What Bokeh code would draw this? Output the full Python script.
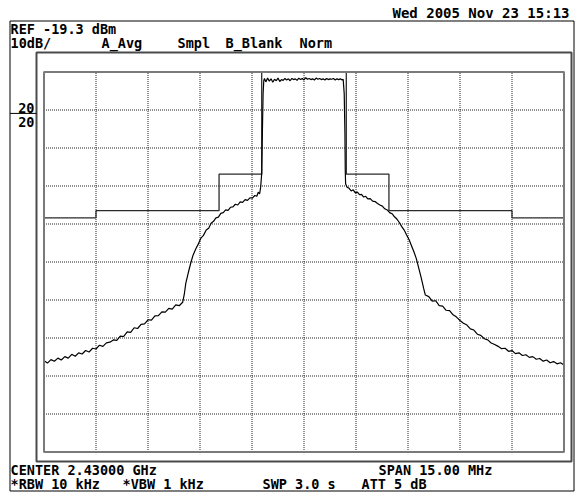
from bokeh.plotting import figure
from bokeh.models import Range1d
from bokeh.core.properties import value
from bokeh.embed import file_html
from bokeh.resources import INLINE

# ---------------- instrument settings / labels ----------------
CENTER_GHZ = 2.43
SPAN_MHZ = 15.0
REF_DBM = -19.3
DB_PER_DIV = 10.0
N_DIV = 10
DISPLAY_LINE_DBM = -30.2

date_text = "Wed 2005 Nov 23 15:13"
ref_text = "REF -19.3 dBm"
row2_texts = ["10dB/", "A_Avg", "Smpl", "B_Blank", "Norm"]
row3_texts = ["CENTER 2.43000 GHz", "SPAN 15.00 MHz"]
row4_texts = ["*RBW 10 kHz", "*VBW 1 kHz", "SWP 3.0 s", "ATT 5 dB"]
dl_texts = ["20", "20"]

# ---------------- data (offset from center, MHz / dBm) ----------------
# limit mask (step, value holds until next edge)
mask_freq = [-7.5, -6.0, -2.45, -1.22, 1.22, 2.45, 6.0, 7.5]
mask_level = [-57.7, -55.8, -46.2, -19.3, -46.2, -55.8, -57.7, -57.7]

# measured trace
trace_freq = [
    -7.5, -7.4, -7.3, -7.2, -7.1, -7.0, -6.9, -6.8, -6.7, -6.6,
    -6.5, -6.4, -6.3, -6.2, -6.1, -6.0, -5.9, -5.8, -5.7, -5.6,
    -5.5, -5.4, -5.3, -5.2, -5.1, -5.0, -4.9, -4.8, -4.7, -4.6,
    -4.5, -4.4, -4.3, -4.2, -4.1, -4.0, -3.9, -3.8, -3.7, -3.6,
    -3.5, -3.45, -3.41, -3.34, -3.27, -3.20, -3.12, -3.05, -2.98, -2.90,
    -2.82, -2.75, -2.68, -2.61, -2.54, -2.47, -2.40, -2.33, -2.26, -2.19,
    -2.12, -2.05, -1.98, -1.91, -1.84, -1.77, -1.70, -1.63, -1.56, -1.49,
    -1.42, -1.36, -1.32, -1.28, -1.25, -1.22, -1.20, -1.18, -1.16,
    -1.14, -1.10, -1.05, -1.00, -0.95, -0.90, -0.85, -0.80, -0.75, -0.70,
    -0.65, -0.60, -0.55, -0.50, -0.45, -0.40, -0.35, -0.30, -0.25, -0.20,
    -0.15, -0.10, -0.05, 0.00, 0.05, 0.10, 0.15, 0.20, 0.25, 0.30,
    0.35, 0.40, 0.45, 0.50, 0.55, 0.60, 0.65, 0.70, 0.75, 0.80,
    0.85, 0.90, 0.95, 1.00, 1.05, 1.10, 1.13,
    1.16, 1.18, 1.19, 1.20,
    1.24, 1.30, 1.36, 1.42, 1.48, 1.54, 1.60, 1.66, 1.72, 1.78,
    1.84, 1.91, 1.98, 2.05, 2.12, 2.19, 2.26, 2.33, 2.40, 2.47,
    2.54, 2.61, 2.68, 2.75, 2.82, 2.89, 2.96, 3.03, 3.10, 3.17,
    3.24, 3.31, 3.38, 3.45, 3.50,
    3.6, 3.7, 3.8, 3.9, 4.0, 4.1, 4.2, 4.3, 4.4, 4.5,
    4.6, 4.7, 4.8, 4.9, 5.0, 5.1, 5.2, 5.3, 5.4, 5.5,
    5.6, 5.7, 5.8, 5.9, 6.0, 6.1, 6.2, 6.3, 6.4, 6.5,
    6.6, 6.7, 6.8, 6.9, 7.0, 7.1, 7.2, 7.3, 7.4, 7.5,
]
trace_level = [
    -95.3, -95.9, -95.0, -95.4, -94.6, -95.1, -94.2, -94.6, -93.6, -94.1,
    -93.2, -93.5, -92.6, -93.0, -92.0, -92.2, -91.2, -91.5, -90.6, -90.4,
    -89.8, -89.9, -88.8, -88.9, -87.7, -87.8, -86.6, -86.8, -85.7, -85.6,
    -84.5, -84.6, -83.5, -83.4, -82.4, -82.5, -81.5, -81.7, -80.6, -80.8,
    -79.9, -77.6, -74.9, -72.2, -69.7, -67.5, -65.8, -64.6, -63.1, -62.3,
    -60.9, -60.4, -59.1, -58.6, -57.7, -57.5, -56.5, -56.3, -55.6, -55.7,
    -54.9, -54.8, -54.1, -54.3, -53.5, -53.6, -52.9, -53.1, -52.4, -52.5,
    -51.8, -52.0, -50.9, -51.4, -49.6, -46.0, -35.0, -25.0, -21.6,
    -21.0, -21.9, -20.9, -21.7, -21.1, -22.0, -21.2, -21.6, -20.9, -21.8,
    -21.3, -21.5, -21.0, -21.4, -21.1, -21.6, -21.0, -21.3, -21.1, -21.5,
    -20.9, -21.3, -21.0, -21.4, -20.8, -21.2, -21.0, -21.3, -21.1, -21.4,
    -20.9, -21.2, -21.0, -21.3, -21.1, -21.4, -21.0, -21.3, -21.1, -21.2,
    -21.0, -21.4, -21.1, -21.3, -21.1, -21.4, -21.2,
    -25.0, -35.0, -45.0, -48.7,
    -49.6, -49.9, -50.6, -50.3, -51.1, -50.9, -51.6, -51.5, -52.2, -52.0,
    -52.7, -52.6, -53.3, -53.4, -53.9, -54.3, -54.6, -55.3, -55.6, -56.3,
    -56.6, -57.4, -58.0, -58.9, -60.0, -60.9, -62.2, -63.4, -65.0, -66.6,
    -68.4, -70.9, -73.4, -76.2, -78.0,
    -78.4, -79.6, -79.5, -80.8, -80.9, -82.0, -82.1, -83.2, -83.8, -84.7,
    -85.4, -85.9, -86.9, -87.2, -88.3, -88.6, -89.5, -89.8, -90.6, -91.0,
    -91.5, -92.1, -92.0, -92.8, -92.6, -93.4, -93.2, -93.9, -93.7, -94.4,
    -94.2, -94.9, -94.7, -95.4, -95.1, -95.8, -95.5, -96.1, -95.8, -96.4,
]

# ---------------- layout (canvas pixels) ----------------
W, H = 578, 493
GX0, GX1 = 43.5, 563.5     # graticule left / right
GY0, GY1 = 71.5, 451.5     # graticule top / bottom
sx = SPAN_MHZ / (GX1 - GX0)
sy = N_DIV * DB_PER_DIV / (GY1 - GY0)
x_start = -SPAN_MHZ / 2 - GX0 * sx
x_end = SPAN_MHZ / 2 + (W - GX1) * sx
y_top = REF_DBM + GY0 * sy
y_bot = REF_DBM - (H - GY0) * sy


def X(cx):
    return x_start + cx * sx


def Y(cy):
    return y_top - cy * sy


p = figure(width=W, height=H, x_range=Range1d(x_start, x_end),
           y_range=Range1d(y_bot, y_top), x_axis_type=None, y_axis_type=None,
           output_backend="svg", toolbar_location=None, min_border=0,
           outline_line_color=None, background_fill_color="white",
           border_fill_color="white")

# outer frame and inner box
p.quad(left=[X(9.5)], right=[X(573.5)], top=[Y(20.5)], bottom=[Y(490.5)],
       fill_color=None, line_color="black", line_width=1)
p.quad(left=[X(36)], right=[X(571)], top=[Y(52)], bottom=[Y(461)],
       fill_color=None, line_color="#4a4a4a", line_width=2)

# graticule
f_left, f_right = -SPAN_MHZ / 2, SPAN_MHZ / 2
db_bottom = REF_DBM - N_DIV * DB_PER_DIV
vx = [f_left + i * SPAN_MHZ / N_DIV for i in range(1, N_DIV)]
hy = [REF_DBM - j * DB_PER_DIV for j in range(1, N_DIV)]
p.segment(x0=vx, x1=vx, y0=[db_bottom] * len(vx), y1=[REF_DBM] * len(vx),
          line_color="#222222", line_dash="1 1", line_width=1)
p.segment(x0=[f_left] * len(hy), x1=[f_right] * len(hy), y0=hy, y1=hy,
          line_color="#222222", line_dash="1 1", line_width=1)

# traces
p.step(x=mask_freq, y=mask_level, mode="after", line_color="#2a2a2a", line_width=1.3)
p.line(x=trace_freq, y=trace_level, line_color="black", line_width=1.2)

p.quad(left=[f_left], right=[f_right], top=[REF_DBM], bottom=[db_bottom],
       fill_color=None, line_color="#7a7a7a", line_width=2)

# display line marker
p.segment(x0=[X(9.5)], x1=[X(36)], y0=[DISPLAY_LINE_DBM], y1=[DISPLAY_LINE_DBM],
          line_color="black", line_width=1)

font = value("DejaVu Sans Mono")
common = dict(text_font=font, text_color="black", text_baseline="alphabetic",
              text_font_style="bold")

p.text(x=[X(569)], y=[Y(12)], text=[date_text], text_align="right",
       text_font_size=value("14px"), **common)
p.text(x=[X(10)], y=[Y(28)], text=[ref_text], text_align="left",
       text_font_size=value("13.5px"), **common)
p.text(x=[X(10), X(101), X(177), X(225), X(299)], y=[Y(42)] * 5,
       text=row2_texts, text_align="left", text_font_size=value("13.5px"), **common)
p.text(x=[X(10), X(378)], y=[Y(469)] * 2, text=row3_texts, text_align="left",
       text_font_size=value("13.5px"), **common)
p.text(x=[X(10), X(122), X(262), X(361)], y=[Y(483)] * 4, text=row4_texts,
       text_align="left", text_font_size=value("13.5px"), **common)
p.text(x=[X(34), X(34)], y=[Y(107), Y(121)], text=dl_texts, text_align="right",
       text_font_size=value("13.5px"), **common)

open("out.html", "w").write(file_html(p, INLINE))
